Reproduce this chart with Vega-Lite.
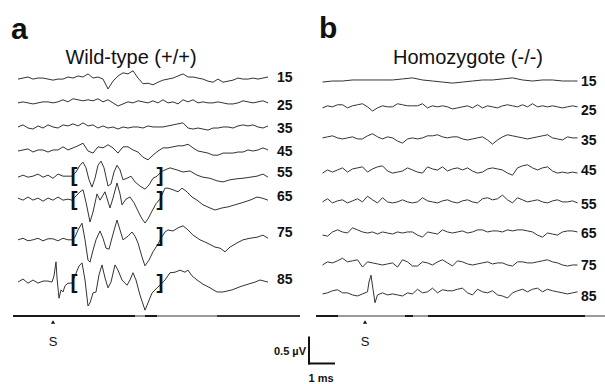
{
"$schema":"https://vega.github.io/schema/vega-lite/v6.json",
"padding":0,"spacing":0,"bounds":"flush","background":"white",
"config":{"view":{"stroke":null},"text":{"font":"Liberation Sans","color":"#111"}},
"datasets":{
"A":[
{"l":15,"t":-1.4,"v":-0.04},{"l":15,"t":-1.2,"v":-0.02},{"l":15,"t":-1.0,"v":0},{"l":15,"t":-0.8,"v":-0.04},{"l":15,"t":-0.6,"v":-0.02},{"l":15,"t":-0.4,"v":-0.02},{"l":15,"t":-0.2,"v":-0.04},{"l":15,"t":0,"v":-0.06},{"l":15,"t":0.2,"v":-0.04},{"l":15,"t":0.4,"v":-0.04},
{"l":15,"t":0.6,"v":0},{"l":15,"t":0.8,"v":-0.02},{"l":15,"t":1.0,"v":0.02},{"l":15,"t":1.2,"v":0},{"l":15,"t":1.4,"v":0.06},{"l":15,"t":1.6,"v":-0.02},{"l":15,"t":1.8,"v":0},{"l":15,"t":2.0,"v":-0.04},{"l":15,"t":2.2,"v":-0.23},{"l":15,"t":2.4,"v":-0.08},
{"l":15,"t":2.6,"v":0.02},{"l":15,"t":2.8,"v":0.08},{"l":15,"t":3.0,"v":0.06},{"l":15,"t":3.2,"v":0.12},{"l":15,"t":3.4,"v":-0.02},{"l":15,"t":3.6,"v":-0.13},{"l":15,"t":3.8,"v":-0.12},{"l":15,"t":4.0,"v":-0.15},{"l":15,"t":4.2,"v":-0.1},{"l":15,"t":4.4,"v":-0.06},
{"l":15,"t":4.6,"v":-0.04},{"l":15,"t":4.8,"v":-0.02},{"l":15,"t":5.0,"v":0.02},{"l":15,"t":5.2,"v":0.06},{"l":15,"t":5.4,"v":0},{"l":15,"t":5.6,"v":0},{"l":15,"t":5.8,"v":-0.02},{"l":15,"t":6.0,"v":-0.04},{"l":15,"t":6.2,"v":-0.08},{"l":15,"t":6.4,"v":-0.1},
{"l":15,"t":6.6,"v":-0.04},{"l":15,"t":6.8,"v":-0.1},{"l":15,"t":7.0,"v":-0.08},{"l":15,"t":7.2,"v":-0.06},{"l":15,"t":7.4,"v":-0.02},{"l":15,"t":7.6,"v":-0.04},{"l":15,"t":7.8,"v":-0.04},{"l":15,"t":8.0,"v":-0.02},{"l":15,"t":8.2,"v":-0.04},{"l":15,"t":8.4,"v":-0.02},{"l":15,"t":8.6,"v":0},
{"l":25,"t":-1.4,"v":0.04},{"l":25,"t":-1.2,"v":0.06},{"l":25,"t":-1.0,"v":0.04},{"l":25,"t":-0.8,"v":0.02},{"l":25,"t":-0.6,"v":0.04},{"l":25,"t":-0.4,"v":0.06},{"l":25,"t":-0.2,"v":0.06},{"l":25,"t":0,"v":0.04},{"l":25,"t":0.2,"v":0.06},{"l":25,"t":0.4,"v":0.1},
{"l":25,"t":0.6,"v":0.06},{"l":25,"t":0.8,"v":0.12},{"l":25,"t":1.0,"v":0.1},{"l":25,"t":1.2,"v":0.08},{"l":25,"t":1.4,"v":0.1},{"l":25,"t":1.6,"v":0.08},{"l":25,"t":1.8,"v":0.12},{"l":25,"t":2.0,"v":0.06},{"l":25,"t":2.2,"v":0.1},{"l":25,"t":2.4,"v":0.04},
{"l":25,"t":2.6,"v":-0.02},{"l":25,"t":2.8,"v":0.02},{"l":25,"t":3.0,"v":0.06},{"l":25,"t":3.2,"v":0.04},{"l":25,"t":3.4,"v":0.08},{"l":25,"t":3.6,"v":0.06},{"l":25,"t":3.8,"v":0.04},{"l":25,"t":4.0,"v":0.08},{"l":25,"t":4.2,"v":0.04},{"l":25,"t":4.4,"v":0.1},
{"l":25,"t":4.6,"v":0.04},{"l":25,"t":4.8,"v":0.06},{"l":25,"t":5.0,"v":0.02},{"l":25,"t":5.2,"v":0.1},{"l":25,"t":5.4,"v":0.06},{"l":25,"t":5.6,"v":0.1},{"l":25,"t":5.8,"v":0.04},{"l":25,"t":6.0,"v":0.06},{"l":25,"t":6.2,"v":0.04},{"l":25,"t":6.4,"v":0.04},
{"l":25,"t":6.6,"v":0.06},{"l":25,"t":6.8,"v":0.04},{"l":25,"t":7.0,"v":0.02},{"l":25,"t":7.2,"v":0.02},{"l":25,"t":7.4,"v":0.04},{"l":25,"t":7.6,"v":0.08},{"l":25,"t":7.8,"v":0.06},{"l":25,"t":8.0,"v":0.04},{"l":25,"t":8.2,"v":0.06},{"l":25,"t":8.4,"v":0.08},{"l":25,"t":8.6,"v":0.04},
{"l":35,"t":-1.4,"v":0.02},{"l":35,"t":-1.2,"v":0.06},{"l":35,"t":-1.0,"v":0},{"l":35,"t":-0.8,"v":-0.02},{"l":35,"t":-0.6,"v":0.04},{"l":35,"t":-0.4,"v":0},{"l":35,"t":-0.2,"v":0.06},{"l":35,"t":0,"v":0.02},{"l":35,"t":0.2,"v":0},{"l":35,"t":0.4,"v":0.06},
{"l":35,"t":0.6,"v":0.04},{"l":35,"t":0.8,"v":0.08},{"l":35,"t":1.0,"v":0.04},{"l":35,"t":1.2,"v":0.1},{"l":35,"t":1.4,"v":0.04},{"l":35,"t":1.6,"v":0.06},{"l":35,"t":1.8,"v":0},{"l":35,"t":2.0,"v":0.04},{"l":35,"t":2.2,"v":0},{"l":35,"t":2.4,"v":0.02},
{"l":35,"t":2.6,"v":-0.02},{"l":35,"t":2.8,"v":0.02},{"l":35,"t":3.0,"v":0},{"l":35,"t":3.2,"v":0.02},{"l":35,"t":3.4,"v":0.02},{"l":35,"t":3.6,"v":0},{"l":35,"t":3.8,"v":0.04},{"l":35,"t":4.0,"v":0.02},{"l":35,"t":4.2,"v":0.02},{"l":35,"t":4.4,"v":0.02},
{"l":35,"t":4.6,"v":0.04},{"l":35,"t":4.8,"v":0.06},{"l":35,"t":5.0,"v":0.08},{"l":35,"t":5.2,"v":0.1},{"l":35,"t":5.4,"v":0},{"l":35,"t":5.6,"v":-0.02},{"l":35,"t":5.8,"v":0},{"l":35,"t":6.0,"v":-0.02},{"l":35,"t":6.2,"v":-0.04},{"l":35,"t":6.4,"v":0},
{"l":35,"t":6.6,"v":0},{"l":35,"t":6.8,"v":0.02},{"l":35,"t":7.0,"v":0.02},{"l":35,"t":7.2,"v":0},{"l":35,"t":7.4,"v":0.04},{"l":35,"t":7.6,"v":0.06},{"l":35,"t":7.8,"v":0.04},{"l":35,"t":8.0,"v":0.06},{"l":35,"t":8.2,"v":0.02},{"l":35,"t":8.4,"v":0},{"l":35,"t":8.6,"v":0.04},
{"l":45,"t":-1.4,"v":0},{"l":45,"t":-1.2,"v":0.02},{"l":45,"t":-1.0,"v":0.04},{"l":45,"t":-0.8,"v":-0.02},{"l":45,"t":-0.6,"v":0.02},{"l":45,"t":-0.4,"v":0.02},{"l":45,"t":-0.2,"v":-0.02},{"l":45,"t":0,"v":0.02},{"l":45,"t":0.2,"v":0.02},{"l":45,"t":0.4,"v":0.08},
{"l":45,"t":0.6,"v":0.02},{"l":45,"t":0.8,"v":0.06},{"l":45,"t":1.0,"v":0.1},{"l":45,"t":1.2,"v":0.15},{"l":45,"t":1.4,"v":0},{"l":45,"t":1.6,"v":-0.04},{"l":45,"t":1.8,"v":0.08},{"l":45,"t":2.0,"v":0.06},{"l":45,"t":2.2,"v":0.12},{"l":45,"t":2.4,"v":0.06},
{"l":45,"t":2.6,"v":-0.04},{"l":45,"t":2.8,"v":0.08},{"l":45,"t":3.0,"v":0.08},{"l":45,"t":3.2,"v":0.02},{"l":45,"t":3.4,"v":-0.02},{"l":45,"t":3.6,"v":-0.12},{"l":45,"t":3.8,"v":-0.17},{"l":45,"t":4.0,"v":-0.08},{"l":45,"t":4.2,"v":0},{"l":45,"t":4.4,"v":0.06},
{"l":45,"t":4.6,"v":0.06},{"l":45,"t":4.8,"v":0.08},{"l":45,"t":5.0,"v":0.1},{"l":45,"t":5.2,"v":0.1},{"l":45,"t":5.4,"v":0.13},{"l":45,"t":5.6,"v":0.06},{"l":45,"t":5.8,"v":0},{"l":45,"t":6.0,"v":-0.02},{"l":45,"t":6.2,"v":-0.04},{"l":45,"t":6.4,"v":-0.08},
{"l":45,"t":6.6,"v":-0.08},{"l":45,"t":6.8,"v":-0.04},{"l":45,"t":7.0,"v":-0.04},{"l":45,"t":7.2,"v":-0.04},{"l":45,"t":7.4,"v":-0.02},{"l":45,"t":7.6,"v":-0.02},{"l":45,"t":7.8,"v":0.02},{"l":45,"t":8.0,"v":0},{"l":45,"t":8.2,"v":0.02},{"l":45,"t":8.4,"v":0.06},{"l":45,"t":8.6,"v":0.02},
{"l":55,"t":-1.4,"v":-0.1},{"l":55,"t":-1.2,"v":-0.06},{"l":55,"t":-1.0,"v":-0.1},{"l":55,"t":-0.8,"v":-0.08},{"l":55,"t":-0.6,"v":-0.04},{"l":55,"t":-0.4,"v":-0.1},{"l":55,"t":-0.2,"v":-0.06},{"l":55,"t":0,"v":-0.12},{"l":55,"t":0.2,"v":-0.04},{"l":55,"t":0.4,"v":-0.08},{"l":55,"t":0.6,"v":-0.08},{"l":55,"t":0.76,"v":-0.08},
{"l":55,"t":0.92,"v":0},{"l":55,"t":1.08,"v":0.13},{"l":55,"t":1.2,"v":0.19},{"l":55,"t":1.32,"v":0.08},{"l":55,"t":1.44,"v":-0.15},{"l":55,"t":1.56,"v":-0.29},{"l":55,"t":1.68,"v":-0.12},{"l":55,"t":1.8,"v":0.13},{"l":55,"t":1.92,"v":0.21},{"l":55,"t":2.04,"v":0.08},{"l":55,"t":2.2,"v":-0.27},{"l":55,"t":2.32,"v":-0.23},{"l":55,"t":2.44,"v":0},
{"l":55,"t":2.56,"v":0.13},{"l":55,"t":2.68,"v":0.04},{"l":55,"t":2.8,"v":-0.15},{"l":55,"t":2.96,"v":-0.12},{"l":55,"t":3.12,"v":-0.08},{"l":55,"t":3.28,"v":-0.19},{"l":55,"t":3.48,"v":-0.27},{"l":55,"t":3.68,"v":-0.33},{"l":55,"t":3.84,"v":-0.25},{"l":55,"t":4.0,"v":-0.12},{"l":55,"t":4.16,"v":-0.08},{"l":55,"t":4.32,"v":0},
{"l":55,"t":4.48,"v":0.04},{"l":55,"t":4.68,"v":0.08},{"l":55,"t":4.96,"v":0.04},{"l":55,"t":5.2,"v":0},{"l":55,"t":5.48,"v":0.02},{"l":55,"t":5.76,"v":-0.06},{"l":55,"t":6.0,"v":-0.1},{"l":55,"t":6.28,"v":-0.12},{"l":55,"t":6.56,"v":-0.17},{"l":55,"t":6.8,"v":-0.19},{"l":55,"t":7.08,"v":-0.15},{"l":55,"t":7.36,"v":-0.13},{"l":55,"t":7.6,"v":-0.12},{"l":55,"t":7.88,"v":-0.1},{"l":55,"t":8.16,"v":-0.08},{"l":55,"t":8.4,"v":-0.04},{"l":55,"t":8.6,"v":-0.1},
{"l":65,"t":-1.4,"v":-0.04},{"l":65,"t":-1.2,"v":-0.08},{"l":65,"t":-1.0,"v":-0.02},{"l":65,"t":-0.8,"v":-0.08},{"l":65,"t":-0.6,"v":-0.04},{"l":65,"t":-0.4,"v":-0.1},{"l":65,"t":-0.2,"v":-0.04},{"l":65,"t":0,"v":-0.08},{"l":65,"t":0.2,"v":-0.02},{"l":65,"t":0.4,"v":-0.08},{"l":65,"t":0.6,"v":-0.06},{"l":65,"t":0.76,"v":-0.08},
{"l":65,"t":0.92,"v":0},{"l":65,"t":1.08,"v":0.08},{"l":65,"t":1.2,"v":0.12},{"l":65,"t":1.32,"v":-0.12},{"l":65,"t":1.48,"v":-0.5},{"l":65,"t":1.6,"v":-0.31},{"l":65,"t":1.76,"v":0.04},{"l":65,"t":1.88,"v":-0.08},{"l":65,"t":2.08,"v":0.08},{"l":65,"t":2.28,"v":-0.23},{"l":65,"t":2.4,"v":-0.04},{"l":65,"t":2.56,"v":0.25},
{"l":65,"t":2.68,"v":0.04},{"l":65,"t":2.76,"v":-0.17},{"l":65,"t":2.92,"v":-0.06},{"l":65,"t":3.08,"v":-0.02},{"l":65,"t":3.24,"v":-0.13},{"l":65,"t":3.4,"v":-0.29},{"l":65,"t":3.56,"v":-0.44},{"l":65,"t":3.68,"v":-0.52},{"l":65,"t":3.8,"v":-0.44},{"l":65,"t":3.96,"v":-0.29},{"l":65,"t":4.12,"v":-0.15},{"l":65,"t":4.28,"v":-0.06},
{"l":65,"t":4.48,"v":0.15},{"l":65,"t":4.6,"v":0.15},{"l":65,"t":4.8,"v":0.12},{"l":65,"t":5.0,"v":0.08},{"l":65,"t":5.16,"v":0.15},{"l":65,"t":5.36,"v":0.08},{"l":65,"t":5.56,"v":-0.02},{"l":65,"t":5.76,"v":-0.08},{"l":65,"t":6.0,"v":-0.17},{"l":65,"t":6.28,"v":-0.23},{"l":65,"t":6.48,"v":-0.27},{"l":65,"t":6.76,"v":-0.23},{"l":65,"t":7.0,"v":-0.21},{"l":65,"t":7.28,"v":-0.17},{"l":65,"t":7.56,"v":-0.13},{"l":65,"t":7.88,"v":-0.08},{"l":65,"t":8.16,"v":-0.02},{"l":65,"t":8.36,"v":-0.04},{"l":65,"t":8.6,"v":-0.08},
{"l":75,"t":-1.4,"v":-0.15},{"l":75,"t":-1.2,"v":-0.12},{"l":75,"t":-1.0,"v":-0.17},{"l":75,"t":-0.8,"v":-0.15},{"l":75,"t":-0.6,"v":-0.12},{"l":75,"t":-0.4,"v":-0.17},{"l":75,"t":-0.2,"v":-0.13},{"l":75,"t":0,"v":-0.13},{"l":75,"t":0.2,"v":-0.17},{"l":75,"t":0.4,"v":-0.12},{"l":75,"t":0.6,"v":-0.15},{"l":75,"t":0.76,"v":-0.15},
{"l":75,"t":0.88,"v":-0.1},{"l":75,"t":1.0,"v":0.04},{"l":75,"t":1.16,"v":0.17},{"l":75,"t":1.28,"v":-0.15},{"l":75,"t":1.4,"v":-0.54},{"l":75,"t":1.48,"v":-0.58},{"l":75,"t":1.6,"v":-0.35},{"l":75,"t":1.72,"v":-0.15},{"l":75,"t":1.88,"v":0.02},{"l":75,"t":2.0,"v":-0.12},{"l":75,"t":2.12,"v":-0.31},{"l":75,"t":2.24,"v":-0.33},{"l":75,"t":2.4,"v":-0.04},
{"l":75,"t":2.56,"v":0.23},{"l":75,"t":2.68,"v":0.04},{"l":75,"t":2.8,"v":-0.15},{"l":75,"t":3.0,"v":-0.08},{"l":75,"t":3.16,"v":0},{"l":75,"t":3.28,"v":-0.08},{"l":75,"t":3.4,"v":-0.21},{"l":75,"t":3.56,"v":-0.48},{"l":75,"t":3.68,"v":-0.65},{"l":75,"t":3.84,"v":-0.54},{"l":75,"t":4.0,"v":-0.38},{"l":75,"t":4.2,"v":-0.23},{"l":75,"t":4.32,"v":-0.12},
{"l":75,"t":4.48,"v":0},{"l":75,"t":4.6,"v":0.04},{"l":75,"t":4.8,"v":0.02},{"l":75,"t":5.0,"v":0.08},{"l":75,"t":5.2,"v":0.12},{"l":75,"t":5.4,"v":0.04},{"l":75,"t":5.6,"v":-0.06},{"l":75,"t":5.88,"v":-0.15},{"l":75,"t":6.16,"v":-0.21},{"l":75,"t":6.48,"v":-0.29},{"l":75,"t":6.68,"v":-0.31},{"l":75,"t":6.88,"v":-0.38},{"l":75,"t":7.08,"v":-0.29},{"l":75,"t":7.36,"v":-0.21},{"l":75,"t":7.6,"v":-0.15},{"l":75,"t":7.88,"v":-0.12},{"l":75,"t":8.16,"v":-0.1},{"l":75,"t":8.4,"v":-0.06},{"l":75,"t":8.6,"v":-0.12},
{"l":85,"t":-1.4,"v":-0.06},{"l":85,"t":-1.2,"v":0},{"l":85,"t":-1.0,"v":-0.08},{"l":85,"t":-0.8,"v":-0.02},{"l":85,"t":-0.6,"v":-0.08},{"l":85,"t":-0.4,"v":-0.04},{"l":85,"t":-0.2,"v":-0.04},{"l":85,"t":-0.04,"v":-0.06},{"l":85,"t":0.04,"v":0.06},{"l":85,"t":0.12,"v":0.33},{"l":85,"t":0.16,"v":0.02},{"l":85,"t":0.24,"v":-0.37},{"l":85,"t":0.32,"v":-0.21},{"l":85,"t":0.4,"v":-0.25},{"l":85,"t":0.48,"v":-0.13},{"l":85,"t":0.6,"v":-0.08},{"l":85,"t":0.76,"v":-0.08},
{"l":85,"t":0.88,"v":0.06},{"l":85,"t":1.04,"v":0.25},{"l":85,"t":1.16,"v":0.31},{"l":85,"t":1.28,"v":-0.02},{"l":85,"t":1.4,"v":-0.52},{"l":85,"t":1.48,"v":-0.46},{"l":85,"t":1.6,"v":-0.27},{"l":85,"t":1.72,"v":-0.25},{"l":85,"t":1.84,"v":0.08},{"l":85,"t":1.96,"v":0.27},{"l":85,"t":2.08,"v":0.02},{"l":85,"t":2.2,"v":-0.17},{"l":85,"t":2.32,"v":-0.06},
{"l":85,"t":2.48,"v":0.27},{"l":85,"t":2.6,"v":0.17},{"l":85,"t":2.76,"v":-0.02},{"l":85,"t":2.96,"v":-0.12},{"l":85,"t":3.08,"v":-0.02},{"l":85,"t":3.2,"v":0.12},{"l":85,"t":3.32,"v":-0.02},{"l":85,"t":3.48,"v":-0.31},{"l":85,"t":3.68,"v":-0.6},{"l":85,"t":3.8,"v":-0.46},{"l":85,"t":3.96,"v":-0.27},{"l":85,"t":4.16,"v":-0.17},{"l":85,"t":4.32,"v":-0.1},
{"l":85,"t":4.48,"v":-0.02},{"l":85,"t":4.68,"v":0.12},{"l":85,"t":4.88,"v":0.13},{"l":85,"t":5.08,"v":0.17},{"l":85,"t":5.28,"v":0.13},{"l":85,"t":5.4,"v":0.17},{"l":85,"t":5.56,"v":0.06},{"l":85,"t":5.76,"v":-0.02},{"l":85,"t":6.0,"v":-0.1},{"l":85,"t":6.28,"v":-0.17},{"l":85,"t":6.56,"v":-0.25},{"l":85,"t":6.8,"v":-0.25},{"l":85,"t":7.16,"v":-0.21},{"l":85,"t":7.48,"v":-0.15},{"l":85,"t":7.8,"v":-0.1},{"l":85,"t":8.08,"v":-0.06},{"l":85,"t":8.28,"v":-0.02},{"l":85,"t":8.6,"v":-0.06}
],
"B":[
{"l":15,"t":-1.7,"v":-0.02},{"l":15,"t":-1.3,"v":0},{"l":15,"t":-0.9,"v":0},{"l":15,"t":-0.5,"v":0.02},{"l":15,"t":-0.1,"v":0.02},{"l":15,"t":0.3,"v":0.02},{"l":15,"t":0.7,"v":0.02},{"l":15,"t":1.1,"v":0.02},{"l":15,"t":1.5,"v":0.04},{"l":15,"t":1.9,"v":0.06},{"l":15,"t":2.3,"v":0.02},{"l":15,"t":2.7,"v":0},{"l":15,"t":3.1,"v":-0.02},{"l":15,"t":3.5,"v":-0.04},{"l":15,"t":3.9,"v":-0.02},{"l":15,"t":4.3,"v":0},{"l":15,"t":4.7,"v":0.02},{"l":15,"t":5.1,"v":0.02},{"l":15,"t":5.5,"v":0.04},{"l":15,"t":5.9,"v":0.06},{"l":15,"t":6.3,"v":0.02},{"l":15,"t":6.7,"v":0},{"l":15,"t":7.1,"v":0.02},{"l":15,"t":7.5,"v":0.02},{"l":15,"t":7.9,"v":0},{"l":15,"t":8.3,"v":0},{"l":15,"t":8.5,"v":0},
{"l":25,"t":-1.7,"v":0.04},{"l":25,"t":-1.5,"v":0.08},{"l":25,"t":-1.3,"v":0.06},{"l":25,"t":-1.1,"v":0.1},{"l":25,"t":-0.9,"v":0.1},{"l":25,"t":-0.7,"v":0.04},{"l":25,"t":-0.5,"v":0.08},{"l":25,"t":-0.3,"v":0.1},{"l":25,"t":-0.1,"v":0.12},{"l":25,"t":0.1,"v":0.06},
{"l":25,"t":0.3,"v":-0.02},{"l":25,"t":0.5,"v":0.04},{"l":25,"t":0.7,"v":0.08},{"l":25,"t":0.9,"v":0.06},{"l":25,"t":1.1,"v":0.06},{"l":25,"t":1.3,"v":0.12},{"l":25,"t":1.5,"v":0.1},{"l":25,"t":1.7,"v":0.08},{"l":25,"t":1.9,"v":0.08},{"l":25,"t":2.1,"v":0.08},
{"l":25,"t":2.3,"v":0.12},{"l":25,"t":2.5,"v":0.04},{"l":25,"t":2.7,"v":0.08},{"l":25,"t":2.9,"v":0.06},{"l":25,"t":3.1,"v":0.08},{"l":25,"t":3.3,"v":0.06},{"l":25,"t":3.5,"v":0.02},{"l":25,"t":3.7,"v":0.04},{"l":25,"t":3.9,"v":0.06},{"l":25,"t":4.1,"v":0.08},
{"l":25,"t":4.3,"v":0.04},{"l":25,"t":4.5,"v":0.1},{"l":25,"t":4.7,"v":0.04},{"l":25,"t":4.9,"v":0.08},{"l":25,"t":5.1,"v":0.06},{"l":25,"t":5.3,"v":0.04},{"l":25,"t":5.5,"v":0.08},{"l":25,"t":5.7,"v":0.1},{"l":25,"t":5.9,"v":0.08},{"l":25,"t":6.1,"v":0.06},
{"l":25,"t":6.3,"v":0.1},{"l":25,"t":6.5,"v":0.06},{"l":25,"t":6.7,"v":0.12},{"l":25,"t":6.9,"v":0.06},{"l":25,"t":7.1,"v":0.08},{"l":25,"t":7.3,"v":0.06},{"l":25,"t":7.5,"v":0.08},{"l":25,"t":7.7,"v":0.06},{"l":25,"t":7.9,"v":0.04},{"l":25,"t":8.1,"v":0.06},{"l":25,"t":8.3,"v":0.08},{"l":25,"t":8.5,"v":0.06},
{"l":35,"t":-1.7,"v":0.04},{"l":35,"t":-1.5,"v":0.06},{"l":35,"t":-1.3,"v":0.08},{"l":35,"t":-1.1,"v":0.04},{"l":35,"t":-0.9,"v":0.02},{"l":35,"t":-0.7,"v":0.04},{"l":35,"t":-0.5,"v":0.06},{"l":35,"t":-0.3,"v":0.02},{"l":35,"t":-0.1,"v":0.02},{"l":35,"t":0.1,"v":0.08},
{"l":35,"t":0.3,"v":0.12},{"l":35,"t":0.5,"v":0.06},{"l":35,"t":0.7,"v":0.02},{"l":35,"t":0.9,"v":0.06},{"l":35,"t":1.1,"v":0.04},{"l":35,"t":1.3,"v":-0.02},{"l":35,"t":1.5,"v":-0.06},{"l":35,"t":1.7,"v":0.02},{"l":35,"t":1.9,"v":0.04},{"l":35,"t":2.1,"v":0.02},
{"l":35,"t":2.3,"v":0.04},{"l":35,"t":2.5,"v":0.08},{"l":35,"t":2.7,"v":0.08},{"l":35,"t":2.9,"v":0.1},{"l":35,"t":3.1,"v":0.06},{"l":35,"t":3.3,"v":0.04},{"l":35,"t":3.5,"v":0.06},{"l":35,"t":3.7,"v":0.06},{"l":35,"t":3.9,"v":0.02},{"l":35,"t":4.1,"v":0},
{"l":35,"t":4.3,"v":0.02},{"l":35,"t":4.5,"v":0.04},{"l":35,"t":4.7,"v":0.06},{"l":35,"t":4.9,"v":0},{"l":35,"t":5.1,"v":-0.08},{"l":35,"t":5.3,"v":0},{"l":35,"t":5.5,"v":0.06},{"l":35,"t":5.7,"v":0.1},{"l":35,"t":5.9,"v":0.08},{"l":35,"t":6.1,"v":0.06},
{"l":35,"t":6.3,"v":0.04},{"l":35,"t":6.5,"v":0.02},{"l":35,"t":6.7,"v":0.04},{"l":35,"t":6.9,"v":0.06},{"l":35,"t":7.1,"v":0.08},{"l":35,"t":7.3,"v":0.1},{"l":35,"t":7.5,"v":0.04},{"l":35,"t":7.7,"v":0.02},{"l":35,"t":7.9,"v":0},{"l":35,"t":8.1,"v":0.06},{"l":35,"t":8.3,"v":0.04},{"l":35,"t":8.5,"v":0.04},
{"l":45,"t":-1.7,"v":-0.06},{"l":45,"t":-1.5,"v":0},{"l":45,"t":-1.3,"v":-0.04},{"l":45,"t":-1.1,"v":0},{"l":45,"t":-0.9,"v":0.04},{"l":45,"t":-0.7,"v":-0.04},{"l":45,"t":-0.5,"v":0.02},{"l":45,"t":-0.3,"v":0.04},{"l":45,"t":-0.1,"v":0.06},{"l":45,"t":0.1,"v":-0.04},
{"l":45,"t":0.3,"v":0.02},{"l":45,"t":0.5,"v":0.06},{"l":45,"t":0.7,"v":0.08},{"l":45,"t":0.9,"v":-0.02},{"l":45,"t":1.1,"v":-0.06},{"l":45,"t":1.3,"v":-0.04},{"l":45,"t":1.5,"v":-0.02},{"l":45,"t":1.7,"v":0.04},{"l":45,"t":1.9,"v":0},{"l":45,"t":2.1,"v":-0.04},
{"l":45,"t":2.3,"v":-0.06},{"l":45,"t":2.5,"v":0.06},{"l":45,"t":2.7,"v":0.02},{"l":45,"t":2.9,"v":0},{"l":45,"t":3.1,"v":0.06},{"l":45,"t":3.3,"v":-0.02},{"l":45,"t":3.5,"v":0.02},{"l":45,"t":3.7,"v":0.04},{"l":45,"t":3.9,"v":0},{"l":45,"t":4.1,"v":0.04},
{"l":45,"t":4.3,"v":-0.02},{"l":45,"t":4.5,"v":-0.06},{"l":45,"t":4.7,"v":-0.04},{"l":45,"t":4.9,"v":0.02},{"l":45,"t":5.1,"v":0.04},{"l":45,"t":5.3,"v":0.02},{"l":45,"t":5.5,"v":0},{"l":45,"t":5.7,"v":-0.06},{"l":45,"t":5.9,"v":-0.1},{"l":45,"t":6.1,"v":0.04},
{"l":45,"t":6.3,"v":0.08},{"l":45,"t":6.5,"v":0.1},{"l":45,"t":6.7,"v":0.04},{"l":45,"t":6.9,"v":0},{"l":45,"t":7.1,"v":0.04},{"l":45,"t":7.3,"v":0.06},{"l":45,"t":7.5,"v":-0.02},{"l":45,"t":7.7,"v":-0.06},{"l":45,"t":7.9,"v":-0.04},{"l":45,"t":8.1,"v":-0.06},{"l":45,"t":8.3,"v":-0.04},{"l":45,"t":8.5,"v":-0.06},
{"l":55,"t":-1.7,"v":0.04},{"l":55,"t":-1.5,"v":0.1},{"l":55,"t":-1.3,"v":0.02},{"l":55,"t":-1.1,"v":0.06},{"l":55,"t":-0.9,"v":0.08},{"l":55,"t":-0.7,"v":0.02},{"l":55,"t":-0.5,"v":0.06},{"l":55,"t":-0.3,"v":0.1},{"l":55,"t":-0.1,"v":0.04},{"l":55,"t":0.1,"v":0.15},
{"l":55,"t":0.3,"v":0.08},{"l":55,"t":0.5,"v":0.02},{"l":55,"t":0.7,"v":0.12},{"l":55,"t":0.9,"v":0.04},{"l":55,"t":1.1,"v":0.02},{"l":55,"t":1.3,"v":0.04},{"l":55,"t":1.5,"v":0.08},{"l":55,"t":1.7,"v":0.04},{"l":55,"t":1.9,"v":0.02},{"l":55,"t":2.1,"v":0.04},
{"l":55,"t":2.3,"v":0.12},{"l":55,"t":2.5,"v":0.06},{"l":55,"t":2.7,"v":0.04},{"l":55,"t":2.9,"v":0.02},{"l":55,"t":3.1,"v":0.06},{"l":55,"t":3.3,"v":0.08},{"l":55,"t":3.5,"v":0.04},{"l":55,"t":3.7,"v":0.02},{"l":55,"t":3.9,"v":0.06},{"l":55,"t":4.1,"v":0.08},
{"l":55,"t":4.3,"v":0.04},{"l":55,"t":4.5,"v":0.02},{"l":55,"t":4.7,"v":0.1},{"l":55,"t":4.9,"v":0.12},{"l":55,"t":5.1,"v":0.08},{"l":55,"t":5.3,"v":0.1},{"l":55,"t":5.5,"v":0.17},{"l":55,"t":5.7,"v":0.08},{"l":55,"t":5.9,"v":0.02},{"l":55,"t":6.1,"v":0.12},
{"l":55,"t":6.3,"v":0.08},{"l":55,"t":6.5,"v":0.04},{"l":55,"t":6.7,"v":0.06},{"l":55,"t":6.9,"v":0.08},{"l":55,"t":7.1,"v":0.04},{"l":55,"t":7.3,"v":0.02},{"l":55,"t":7.5,"v":0.06},{"l":55,"t":7.7,"v":0.08},{"l":55,"t":7.9,"v":0.04},{"l":55,"t":8.1,"v":0.04},{"l":55,"t":8.3,"v":0.06},{"l":55,"t":8.5,"v":0.02},
{"l":65,"t":-1.7,"v":-0.04},{"l":65,"t":-1.5,"v":-0.06},{"l":65,"t":-1.3,"v":0.02},{"l":65,"t":-1.1,"v":0.06},{"l":65,"t":-0.9,"v":0.02},{"l":65,"t":-0.7,"v":0},{"l":65,"t":-0.5,"v":0.1},{"l":65,"t":-0.3,"v":0.06},{"l":65,"t":-0.1,"v":0.02},{"l":65,"t":0.1,"v":0},
{"l":65,"t":0.3,"v":0.02},{"l":65,"t":0.5,"v":-0.02},{"l":65,"t":0.7,"v":0.02},{"l":65,"t":0.9,"v":0},{"l":65,"t":1.1,"v":-0.02},{"l":65,"t":1.3,"v":0.02},{"l":65,"t":1.5,"v":0},{"l":65,"t":1.7,"v":0.02},{"l":65,"t":1.9,"v":0.02},{"l":65,"t":2.1,"v":-0.04},
{"l":65,"t":2.3,"v":-0.08},{"l":65,"t":2.5,"v":0.02},{"l":65,"t":2.7,"v":0},{"l":65,"t":2.9,"v":-0.02},{"l":65,"t":3.1,"v":0.06},{"l":65,"t":3.3,"v":0.02},{"l":65,"t":3.5,"v":0},{"l":65,"t":3.7,"v":0.02},{"l":65,"t":3.9,"v":0.04},{"l":65,"t":4.1,"v":0},
{"l":65,"t":4.3,"v":0.02},{"l":65,"t":4.5,"v":0.06},{"l":65,"t":4.7,"v":0.06},{"l":65,"t":4.9,"v":0.02},{"l":65,"t":5.1,"v":0.04},{"l":65,"t":5.3,"v":0.04},{"l":65,"t":5.5,"v":0.02},{"l":65,"t":5.7,"v":0.06},{"l":65,"t":5.9,"v":0.04},{"l":65,"t":6.1,"v":0.06},
{"l":65,"t":6.3,"v":0.06},{"l":65,"t":6.5,"v":0.04},{"l":65,"t":6.7,"v":0.02},{"l":65,"t":6.9,"v":-0.04},{"l":65,"t":7.1,"v":-0.08},{"l":65,"t":7.3,"v":0},{"l":65,"t":7.5,"v":-0.02},{"l":65,"t":7.7,"v":-0.04},{"l":65,"t":7.9,"v":0.02},{"l":65,"t":8.1,"v":0.04},{"l":65,"t":8.3,"v":0.04},{"l":65,"t":8.5,"v":0.02},
{"l":75,"t":-1.7,"v":0},{"l":75,"t":-1.5,"v":0.06},{"l":75,"t":-1.3,"v":0.04},{"l":75,"t":-1.1,"v":0.08},{"l":75,"t":-0.9,"v":0.13},{"l":75,"t":-0.7,"v":0.06},{"l":75,"t":-0.5,"v":0.08},{"l":75,"t":-0.3,"v":0.1},{"l":75,"t":-0.1,"v":-0.04},{"l":75,"t":0.1,"v":0.06},
{"l":75,"t":0.3,"v":0.04},{"l":75,"t":0.5,"v":0.02},{"l":75,"t":0.7,"v":0},{"l":75,"t":0.9,"v":0.02},{"l":75,"t":1.1,"v":0.04},{"l":75,"t":1.3,"v":-0.04},{"l":75,"t":1.5,"v":0.1},{"l":75,"t":1.7,"v":0.06},{"l":75,"t":1.9,"v":-0.02},{"l":75,"t":2.1,"v":-0.02},
{"l":75,"t":2.3,"v":0.06},{"l":75,"t":2.5,"v":0.04},{"l":75,"t":2.7,"v":0},{"l":75,"t":2.9,"v":0.06},{"l":75,"t":3.1,"v":0.1},{"l":75,"t":3.3,"v":0.04},{"l":75,"t":3.5,"v":-0.02},{"l":75,"t":3.7,"v":0.08},{"l":75,"t":3.9,"v":0.06},{"l":75,"t":4.1,"v":0.02},
{"l":75,"t":4.3,"v":0},{"l":75,"t":4.5,"v":0.02},{"l":75,"t":4.7,"v":0.04},{"l":75,"t":4.9,"v":0.06},{"l":75,"t":5.1,"v":0.02},{"l":75,"t":5.3,"v":0.04},{"l":75,"t":5.5,"v":0.04},{"l":75,"t":5.7,"v":0},{"l":75,"t":5.9,"v":-0.02},{"l":75,"t":6.1,"v":0.06},
{"l":75,"t":6.3,"v":0.06},{"l":75,"t":6.5,"v":0.04},{"l":75,"t":6.7,"v":0.04},{"l":75,"t":6.9,"v":0.06},{"l":75,"t":7.1,"v":0.08},{"l":75,"t":7.3,"v":0.1},{"l":75,"t":7.5,"v":0.06},{"l":75,"t":7.7,"v":0.04},{"l":75,"t":7.9,"v":0},{"l":75,"t":8.1,"v":-0.02},{"l":75,"t":8.3,"v":0},{"l":75,"t":8.5,"v":0},
{"l":85,"t":-1.7,"v":0.04},{"l":85,"t":-1.5,"v":0.06},{"l":85,"t":-1.3,"v":0.1},{"l":85,"t":-1.1,"v":0.12},{"l":85,"t":-0.9,"v":0.06},{"l":85,"t":-0.7,"v":0.06},{"l":85,"t":-0.5,"v":0.02},{"l":85,"t":-0.3,"v":0},{"l":85,"t":-0.1,"v":0.04},{"l":85,"t":0.1,"v":0.08},
{"l":85,"t":0.16,"v":0.27},{"l":85,"t":0.24,"v":0.4},{"l":85,"t":0.32,"v":0.13},{"l":85,"t":0.4,"v":-0.13},
{"l":85,"t":0.5,"v":0.02},{"l":85,"t":0.7,"v":0.06},{"l":85,"t":0.9,"v":0.02},{"l":85,"t":1.1,"v":0.04},{"l":85,"t":1.3,"v":0.02},{"l":85,"t":1.5,"v":0},{"l":85,"t":1.7,"v":0.06},{"l":85,"t":1.9,"v":0.04},{"l":85,"t":2.1,"v":0.13},{"l":85,"t":2.3,"v":0.06},
{"l":85,"t":2.5,"v":0.08},{"l":85,"t":2.7,"v":0.15},{"l":85,"t":2.9,"v":0.06},{"l":85,"t":3.1,"v":0.12},{"l":85,"t":3.3,"v":0.1},{"l":85,"t":3.5,"v":0.1},{"l":85,"t":3.7,"v":0.13},{"l":85,"t":3.9,"v":0.15},{"l":85,"t":4.1,"v":0.06},{"l":85,"t":4.3,"v":0.02},
{"l":85,"t":4.5,"v":0.13},{"l":85,"t":4.7,"v":0.08},{"l":85,"t":4.9,"v":0.06},{"l":85,"t":5.1,"v":0.1},{"l":85,"t":5.3,"v":0.02},{"l":85,"t":5.5,"v":0},{"l":85,"t":5.7,"v":-0.04},{"l":85,"t":5.9,"v":0.06},{"l":85,"t":6.1,"v":0.1},{"l":85,"t":6.3,"v":0.13},
{"l":85,"t":6.5,"v":0.08},{"l":85,"t":6.7,"v":0.13},{"l":85,"t":6.9,"v":0.15},{"l":85,"t":7.1,"v":0.08},{"l":85,"t":7.3,"v":0.13},{"l":85,"t":7.5,"v":0.1},{"l":85,"t":7.7,"v":0.08},{"l":85,"t":7.9,"v":0.06},{"l":85,"t":8.1,"v":0.04},{"l":85,"t":8.3,"v":0.06},{"l":85,"t":8.5,"v":0.08}
],
"oA":[{"l":15,"o":4.596},{"l":25,"o":4.058},{"l":35,"o":3.615},{"l":45,"o":3.173},{"l":55,"o":2.769},{"l":65,"o":2.308},{"l":75,"o":1.615},{"l":85,"o":0.712}],
"oB":[{"l":15,"o":4.519},{"l":25,"o":3.962},{"l":35,"o":3.385},{"l":45,"o":2.808},{"l":55,"o":2.154},{"l":65,"o":1.596},{"l":75,"o":0.981},{"l":85,"o":0.385}],
"brk":[{"l":55,"t":0.84,"s":"["},{"l":55,"t":4.28,"s":"]"},{"l":65,"t":0.84,"s":"["},{"l":65,"t":4.28,"s":"]"},{"l":75,"t":0.84,"s":"["},{"l":75,"t":4.28,"s":"]"},{"l":85,"t":0.84,"s":"["},{"l":85,"t":4.28,"s":"]"}],
"segA":[{"t1":-1.6,"t2":3.28,"k":"d"},{"t1":3.28,"t2":3.68,"k":"l"},{"t1":3.68,"t2":4.16,"k":"d"},{"t1":4.16,"t2":6.56,"k":"l"},{"t1":6.56,"t2":9.88,"k":"m"}],
"segB":[{"t1":-1.96,"t2":-1.08,"k":"d"},{"t1":-1.08,"t2":1.6,"k":"l"},{"t1":1.6,"t2":1.92,"k":"d"},{"t1":1.92,"t2":2.52,"k":"l"},{"t1":2.52,"t2":8.8,"k":"d"},{"t1":8.8,"t2":9.6,"k":"l"}],
"stim":[{"t":0}]
},
"hconcat":[
{"width":302,"height":384,
"encoding":{
"x":{"type":"quantitative","scale":{"domain":[-2.12,9.96],"nice":false,"zero":false},"axis":null},
"y":{"type":"quantitative","scale":{"domain":[-1.3077,6.0769],"nice":false,"zero":false},"axis":null}},
"layer":[
{"data":{"name":"segA"},"mark":{"type":"rule","strokeWidth":2},
"encoding":{"x":{"field":"t1","type":"quantitative"},"x2":{"field":"t2"},"y":{"datum":0},
"color":{"field":"k","type":"nominal","scale":{"domain":["d","m","l"],"range":["#1a1a1a","#3a3a3a","#9a9a9a"]},"legend":null}}},
{"data":{"name":"A"},
"transform":[{"lookup":"l","from":{"data":{"name":"oA"},"key":"l","fields":["o"]}},{"calculate":"datum.v+datum.o","as":"y"}],
"mark":{"type":"line","stroke":"#333","strokeWidth":1},
"encoding":{"x":{"field":"t","type":"quantitative"},"y":{"field":"y","type":"quantitative"},"detail":{"field":"l","type":"nominal"}}},
{"data":{"name":"brk"},
"transform":[{"lookup":"l","from":{"data":{"name":"oA"},"key":"l","fields":["o"]}}],
"mark":{"type":"text","fontSize":21,"fontWeight":"bold","align":"center","baseline":"alphabetic","dy":10,"fill":"#111","color":"#111"},
"encoding":{"x":{"field":"t","type":"quantitative"},"y":{"field":"o","type":"quantitative"},"text":{"field":"s","type":"nominal"}}},
{"data":{"name":"oA"},
"mark":{"type":"text","fontSize":14,"fontWeight":"bold","align":"left","baseline":"middle","dy":1},
"encoding":{"x":{"datum":8.96},"y":{"field":"o","type":"quantitative"},"text":{"field":"l","type":"nominal"}}},
{"data":{"name":"stim"},
"mark":{"type":"point","shape":"triangle-up","filled":true,"size":18,"color":"#111","opacity":1},
"encoding":{"x":{"field":"t","type":"quantitative"},"y":{"datum":-0.115}}},
{"data":{"name":"stim"},
"mark":{"type":"text","text":"S","fontSize":13,"align":"center","baseline":"middle"},
"encoding":{"x":{"field":"t","type":"quantitative"},"y":{"datum":-0.5}}},
{"data":{"values":[{}]},
"mark":{"type":"text","text":"a","fontSize":30,"fontWeight":"bold","align":"left","baseline":"alphabetic"},
"encoding":{"x":{"datum":-1.68},"y":{"datum":5.327}}},
{"data":{"values":[{}]},
"mark":{"type":"text","text":"Wild-type (+/+)","fontSize":20,"align":"center","baseline":"alphabetic"},
"encoding":{"x":{"datum":3.12},"y":{"datum":4.846}}}
]},
{"width":303,"height":384,
"encoding":{
"x":{"type":"quantitative","scale":{"domain":[-2.52,9.6],"nice":false,"zero":false},"axis":null},
"y":{"type":"quantitative","scale":{"domain":[-1.3077,6.0769],"nice":false,"zero":false},"axis":null}},
"layer":[
{"data":{"name":"segB"},"mark":{"type":"rule","strokeWidth":2},
"encoding":{"x":{"field":"t1","type":"quantitative"},"x2":{"field":"t2"},"y":{"datum":0},
"color":{"field":"k","type":"nominal","scale":{"domain":["d","m","l"],"range":["#1a1a1a","#3a3a3a","#9a9a9a"]},"legend":null}}},
{"data":{"name":"B"},
"transform":[{"lookup":"l","from":{"data":{"name":"oB"},"key":"l","fields":["o"]}},{"calculate":"datum.v+datum.o","as":"y"}],
"mark":{"type":"line","stroke":"#333","strokeWidth":1},
"encoding":{"x":{"field":"t","type":"quantitative"},"y":{"field":"y","type":"quantitative"},"detail":{"field":"l","type":"nominal"}}},
{"data":{"name":"oB"},
"mark":{"type":"text","fontSize":14,"fontWeight":"bold","align":"left","baseline":"middle","dy":1},
"encoding":{"x":{"datum":8.64},"y":{"field":"o","type":"quantitative"},"text":{"field":"l","type":"nominal"}}},
{"data":{"name":"stim"},
"mark":{"type":"point","shape":"triangle-up","filled":true,"size":18,"color":"#111","opacity":1},
"encoding":{"x":{"field":"t","type":"quantitative"},"y":{"datum":-0.115}}},
{"data":{"name":"stim"},
"mark":{"type":"text","text":"S","fontSize":13,"align":"center","baseline":"middle"},
"encoding":{"x":{"field":"t","type":"quantitative"},"y":{"datum":-0.5}}},
{"data":{"values":[{}]},
"mark":{"type":"rule","strokeWidth":2,"color":"#111","strokeCap":"square"},
"encoding":{"x":{"datum":-2.24},"y":{"datum":-0.913},"y2":{"datum":-0.413}}},
{"data":{"values":[{}]},
"mark":{"type":"rule","strokeWidth":2,"color":"#111","strokeCap":"square"},
"encoding":{"x":{"datum":-2.24},"x2":{"datum":-1.24},"y":{"datum":-0.913}}},
{"data":{"values":[{}]},
"mark":{"type":"text","text":"0.5 µV","fontSize":11,"fontWeight":"bold","align":"right","baseline":"middle"},
"encoding":{"x":{"datum":-2.36},"y":{"datum":-0.692}}},
{"data":{"values":[{}]},
"mark":{"type":"text","text":"1 ms","fontSize":11,"fontWeight":"bold","align":"center","baseline":"alphabetic"},
"encoding":{"x":{"datum":-1.76},"y":{"datum":-1.27}}},
{"data":{"values":[{}]},
"mark":{"type":"text","text":"b","fontSize":30,"fontWeight":"bold","align":"left","baseline":"alphabetic"},
"encoding":{"x":{"datum":-1.84},"y":{"datum":5.346}}},
{"data":{"values":[{}]},
"mark":{"type":"text","text":"Homozygote (-/-)","fontSize":20,"align":"center","baseline":"alphabetic"},
"encoding":{"x":{"datum":4.12},"y":{"datum":4.846}}}
]}
]
}
